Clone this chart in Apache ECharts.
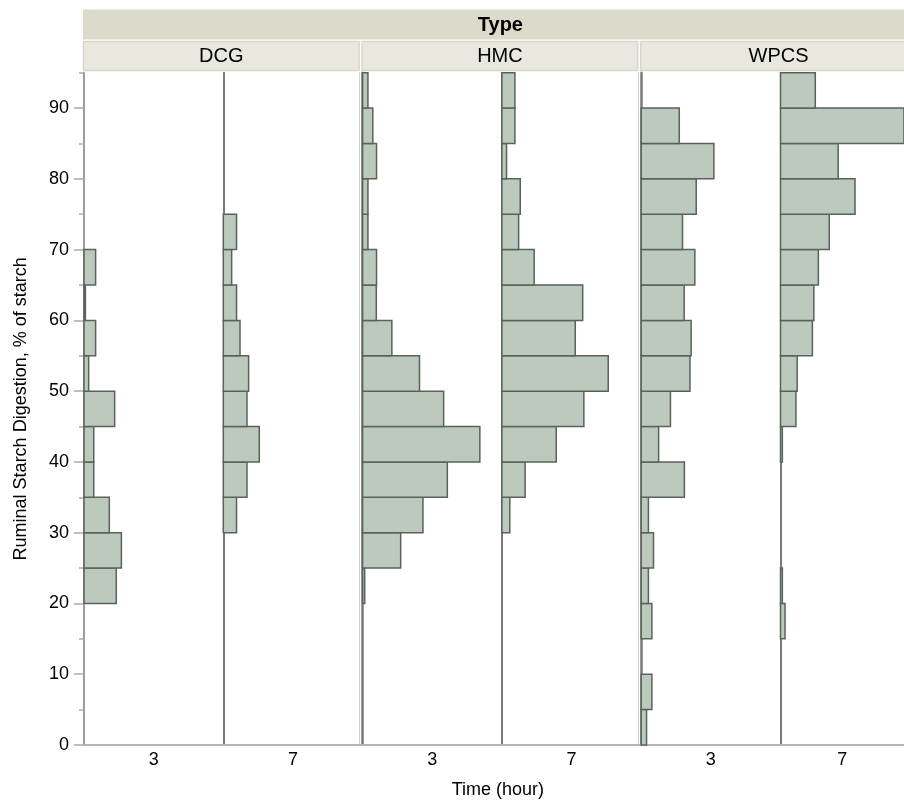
<!DOCTYPE html>
<html>
<head>
<meta charset="utf-8">
<script src="https://cdn.jsdelivr.net/npm/echarts@6/dist/echarts.min.js"></script>
<style>html,body{margin:0;padding:0;background:#fff;}#c{width:904px;height:801px;}</style>
</head>
<body>
<div id="c"></div>
<script>
// ---- data ----
const binEdges = [0,5,10,15,20,25,30,35,40,45,50,55,60,65,70,75,80,85,90,95];
const types = ['DCG','HMC','WPCS'];
const times = ['3','7'];
const yTickLabels = [0,10,20,30,40,50,60,70,80,90];
const yMinorTicks = [5,15,25,35,45,55,65,75,85,95];
// counts per 5-point bin (0-5 ... 90-95)
const dcg3  = [0,0,0,0,13.9,16.1,10.9,4.2,4.2,13.2,2.0,5.0,0.6,5.0,0,0,0,0,0];
const dcg7  = [0,0,0,0,0,0,5.7,10.2,15.5,10.2,10.9,7.2,5.7,3.6,5.7,0,0,0,0];
const hmc3  = [0,0,0,0,0.9,16.4,26.0,36.5,50.5,34.9,24.5,12.6,5.9,6.0,2.3,2.3,6.0,4.4,2.3];
const hmc7  = [0,0,0,0,0,0,3.4,10.0,23.4,35.3,45.8,31.6,34.8,13.9,7.2,7.9,2.0,5.6,5.6];
const wpcs3 = [2.3,4.6,0,4.6,3.1,5.3,3.1,18.6,7.5,12.6,21.0,21.5,18.5,23.1,17.8,23.7,31.3,16.4,0];
const wpcs7 = [0,0,0,2.2,0.9,0,0,0,0.9,7.5,8.1,15.5,16.2,18.4,23.7,36.2,28.0,60,16.9];

const groups = [dcg3, dcg7, hmc3, hmc7, wpcs3, wpcs7];

// ---- layout ----
const FONT = '"Liberation Sans", Arial, Helvetica, sans-serif';
const plotTop = 72.7, plotH = 672.3;
const subW = 139.3;
const panelLeft = [84, 362.6, 641.2];
const subLeft = [];
panelLeft.forEach(p => { subLeft.push(p, p + subW); });
const XMAX = 60;

const grids = [], xAxes = [], yAxes = [], series = [];
subLeft.forEach((l, k) => {
  grids.push({left: l, top: plotTop, width: subW, height: plotH});
  xAxes.push({
    type: 'value', gridIndex: k, min: 0, max: XMAX,
    name: times[k % 2], nameLocation: 'middle', nameGap: 6,
    nameTextStyle: {fontFamily: FONT, fontSize: 18, color: '#000', verticalAlign: 'top'},
    axisLine: {show: true, onZero: false, lineStyle: {color: '#b4b4b4', width: 2}},
    axisTick: {show: false}, axisLabel: {show: false}, splitLine: {show: false}
  });
  const isFirst = k === 0;
  const panelStart = k % 2 === 0;
  yAxes.push({
    type: 'value', gridIndex: k, min: 0, max: 95, position: 'left',
    axisLine: {show: true, lineStyle: {color: isFirst ? '#9c9c9c' : '#7a7a7a', width: panelStart && !isFirst ? 2.5 : 2}},
    axisTick: isFirst ? {show: true, length: 10, customValues: yTickLabels, lineStyle: {color: '#aaaaaa', width: 1.5}} : {show: false},
    axisLabel: isFirst ? {show: true, customValues: yTickLabels, margin: 15, fontFamily: FONT, fontSize: 18, color: '#000'} : {show: false},
    splitLine: {show: false},
    name: isFirst ? 'Ruminal Starch Digestion, % of starch' : '',
    nameLocation: 'middle', nameGap: 54,
    nameTextStyle: {fontFamily: FONT, fontSize: 18, color: '#000'}
  });
  const data = [];
  groups[k].forEach((v, i) => { if (v > 0) data.push([v, binEdges[i], binEdges[i + 1]]); });
  series.push({
    type: 'custom', xAxisIndex: k, yAxisIndex: k, clip: false,
    data: data,
    renderItem: function (params, api) {
      const p0 = api.coord([0, api.value(1)]);
      const p1 = api.coord([api.value(0), api.value(2)]);
      return {
        type: 'rect',
        shape: {x: p0[0], y: p1[1], width: p1[0] - p0[0], height: p0[1] - p1[1]},
        style: {fill: '#bccabd', stroke: '#59625b', lineWidth: 1.5}
      };
    },
    z: 3
  });
});
// minor ticks on the first grid
yAxes.push({
  type: 'value', gridIndex: 0, min: 0, max: 95, position: 'left',
  axisLine: {show: false},
  axisTick: {show: true, length: 5, customValues: yMinorTicks, lineStyle: {color: '#aaaaaa', width: 1.5}},
  axisLabel: {show: false}, splitLine: {show: false}
});
// light panel-edge lines
[2, 4].forEach(k => {
  yAxes.push({
    type: 'value', gridIndex: k, min: 0, max: 95, position: 'left', offset: 3,
    axisLine: {show: true, lineStyle: {color: '#cfcfcf', width: 1}},
    axisTick: {show: false}, axisLabel: {show: false}, splitLine: {show: false}
  });
});

// header strips
const graphics = [];
const stripRight = subLeft[5] + subW;
graphics.push({type: 'rect', shape: {x: 83, y: 9.5, width: stripRight - 83, height: 30}, style: {fill: '#dcdacb'}, z: 1});
graphics.push({type: 'text', x: (83 + stripRight) / 2 - 1, y: 25, style: {text: 'Type', font: 'bold 20px ' + FONT, fill: '#000', align: 'center', verticalAlign: 'middle'}, z: 2});
panelLeft.forEach((p, i) => {
  const w = 2 * subW - 3;
  graphics.push({type: 'rect', shape: {x: p - 0.5, y: 41.5, width: w, height: 29}, style: {fill: '#e8e8df', stroke: '#d8d6c8', lineWidth: 1.5}, z: 1});
  graphics.push({type: 'text', x: p - 0.5 + w / 2, y: 56.5, style: {text: types[i], font: '20px ' + FONT, fill: '#000', align: 'center', verticalAlign: 'middle'}, z: 2});
});
graphics.push({type: 'text', x: (84 + stripRight) / 2 - 4, y: 790, style: {text: 'Time (hour)', font: '18px ' + FONT, fill: '#000', align: 'center', verticalAlign: 'middle'}, z: 2});

const chart = echarts.init(document.getElementById('c'), null, {renderer: 'canvas'});
chart.setOption({
  animation: false,
  backgroundColor: '#fff',
  grid: grids, xAxis: xAxes, yAxis: yAxes, series: series,
  graphic: graphics
});
</script>
</body>
</html>
